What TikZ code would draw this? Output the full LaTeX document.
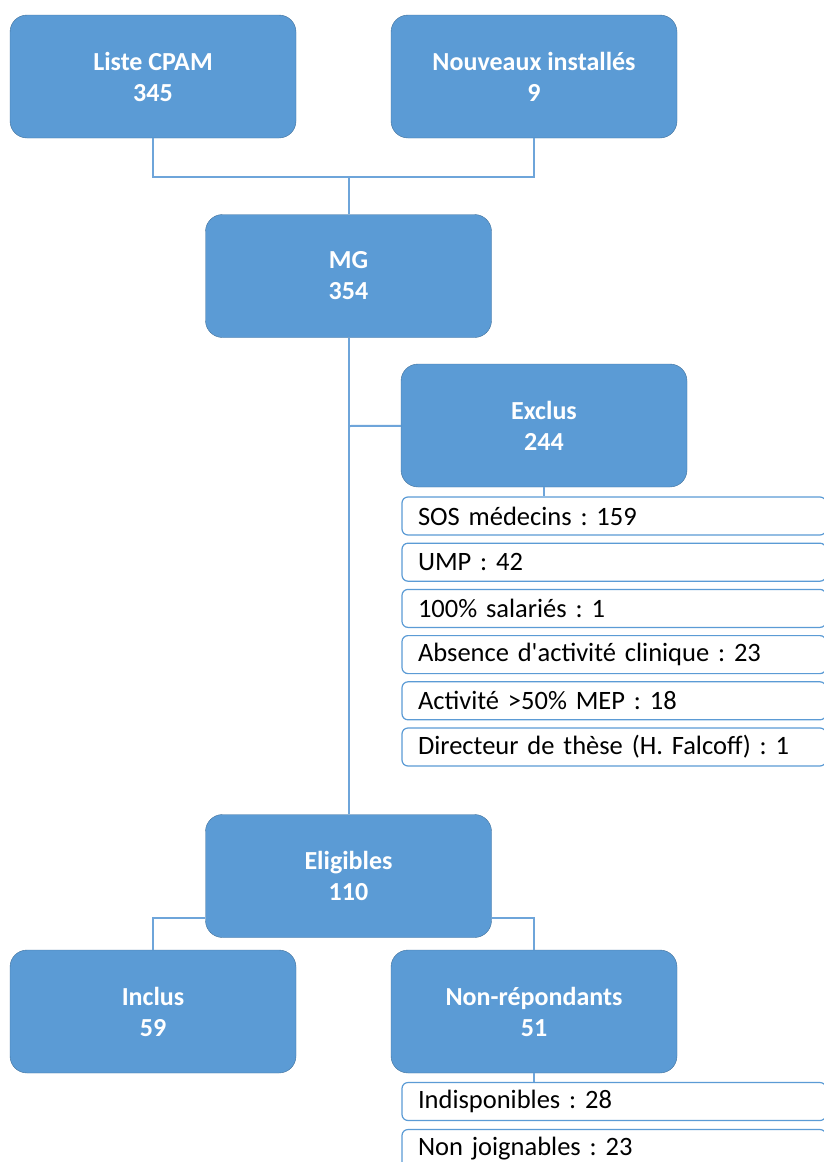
\documentclass[tikz,border=0pt]{standalone}
\usepackage{fontspec}
\setmainfont{Carlito}
\usepackage{pgf,tikz}
\usetikzlibrary{shapes,arrows,positioning}
\definecolor{boxblue}{RGB}{91,155,213}
\definecolor{boxrim}{RGB}{65,113,156}
\definecolor{linkblue}{RGB}{110,165,218}
\frenchspacing

\begin{document}
\begin{tikzpicture}[x=1pt,y=-1pt,on grid,node distance=46.2pt,
  box/.style={draw=boxrim,fill=boxblue,rounded corners=17pt,minimum width=286pt,minimum height=123pt,text=white,font=\fontsize{26}{31}\selectfont\bfseries,align=center},
  item/.style={draw=boxblue,line width=1.2pt,fill=white,rounded corners=6pt,minimum height=38pt,text width=392pt,inner xsep=16pt,inner ysep=0pt,align=left,font=\fontsize{26.5}{30}\selectfont},
  link/.style={draw=linkblue,line width=2pt}]
  \useasboundingbox (0,0) rectangle (824,1162);

  \node[box] (liste) at (153,76.5) {Liste CPAM\\345};
  \node[box] (nouveaux) [right=381pt of liste] {Nouveaux installés\\9};
  \node[box] (mg) [below right=199.5pt and 195.5pt of liste] {MG\\354};
  \node[box] (exclus) [below right=149.5pt and 195.5pt of mg] {Exclus\\244};
  \node[box] (elig) [below=600pt of mg] {Eligibles\\110};
  \node[box] (inclus) [below left=135.5pt and 195.5pt of elig] {Inclus\\59};
  \node[box] (nonrep) [right=381pt of inclus] {Non-répondants\\51};

  \node[item] (sos) [below right=90.5pt and 70pt of exclus] {SOS médecins : 159};
  \node[item] (ump) [below=of sos] {UMP : 42};
  \node[item] (salaries) [below=of ump] {100\% salariés : 1};
  \node[item] (absence) [below=of salaries] {Absence d\textquotesingle activité clinique : 23};
  \node[item] (mep) [below=of absence] {Activité >50\% MEP : 18};
  \node[item] (directeur) [below=of mep] {Directeur de thèse (H. Falcoff) : 1};
  \node[item] (indisp) [below right=90pt and 80pt of nonrep] {Indisponibles : 28};
  \node[item] (joign) [below=47pt of indisp] {Non joignables : 23};

  \coordinate (j1) at (348.5,177);
  \coordinate (j2) at (348.5,426);
  \coordinate[yshift=-42pt] (j3) at (elig.west);
  \coordinate[yshift=-42pt] (j4) at (elig.east);

  \draw[link] (liste) |- (j1) -| (nouveaux);
  \draw[link] (j1) -- (mg);
  \draw[link] (mg) -- (elig);
  \draw[link] (j2) -- (exclus);
  \draw[link] (exclus.south) -- (exclus.south |- sos.north);
  \draw[link] (j3) -| (inclus);
  \draw[link] (j4) -| (nonrep);
  \draw[link] (nonrep.south) -- (nonrep.south |- indisp.north);
\end{tikzpicture}
\end{document}
